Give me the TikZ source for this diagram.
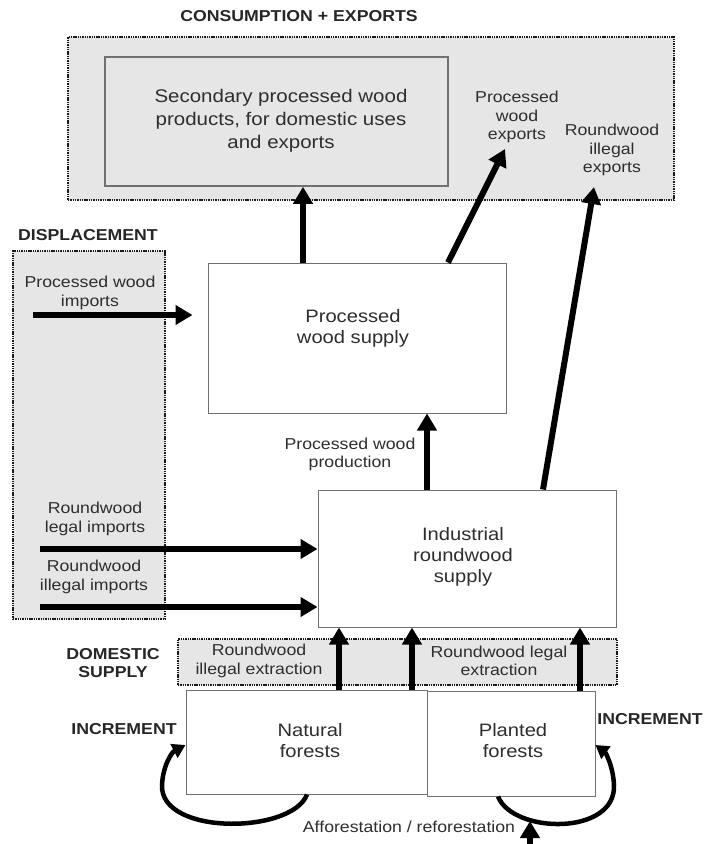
\documentclass[tikz,border=0pt]{standalone}
\usepackage{fontspec}
\setmainfont{Liberation Sans}[FakeStretch=1.12]
\usetikzlibrary{arrows.meta}
\definecolor{boxgray}{HTML}{E6E6E6}
\definecolor{edgegray}{HTML}{707070}
\definecolor{txt}{HTML}{2E2E2E}
\begin{document}
\begin{tikzpicture}[x=1pt,y=-1pt,
  dotbox/.style={draw=black!90, fill=boxgray, line width=2pt, dash pattern=on 1.4pt off 0.9pt},
  plainbox/.style={draw=edgegray, fill=white, line width=1pt},
  secbox/.style={draw=edgegray, fill=boxgray, line width=1.6pt},
  maintext/.style={text=txt, align=center, font=\fontsize{18}{21}\selectfont, inner sep=0pt},
  smalltext/.style={text=txt, align=center, font=\fontsize{15.8}{18.5}\selectfont, inner sep=0pt},
  boldlabel/.style={text=black!85, align=center, font=\bfseries\fontsize{15.8}{18}\selectfont, inner sep=0pt},
  bigarrow/.style={line width=6pt, -{Triangle[width=19pt,length=17pt]}},
  curvearrow/.style={line width=4.5pt, -{Triangle[width=15pt,length=13pt]}},
]
\useasboundingbox (0,0) rectangle (704,844);

% boxes
\node[dotbox, minimum width=606pt, minimum height=163pt] (cons) at (371,118.5) {};
\node[secbox, minimum width=343pt, minimum height=129pt] (sec) at (276.5,121.5) {};
\node[dotbox, minimum width=152pt, minimum height=368pt] (disp) at (89,435) {};
\node[plainbox, minimum width=298pt, minimum height=150pt] (pws) at (357,338) {};
\node[plainbox, minimum width=298pt, minimum height=137pt] (irs) at (467,558.5) {};
\node[dotbox, minimum width=439pt, minimum height=46pt] (dom) at (397.5,662) {};
\node[plainbox, minimum width=241pt, minimum height=104pt] (nat) at (306.5,742) {};
\node[plainbox, minimum width=168pt, minimum height=105pt] (plant) at (511,743.5) {};

% free ends
\coordinate (pwiS) at (33,315);
\coordinate (pweE) at (505,149);
\coordinate (rieE) at (594,187);
\coordinate (rliS) at (40,549);
\coordinate (riiS) at (40,607);
\coordinate (affS) at (530,846);
\coordinate (affE) at (530,821);

% connectors
\draw[bigarrow] (303,0 |- pws.north) -- (303,0 |- sec.south);
\draw[bigarrow] (448,0 |- pws.north) -- (pweE);
\draw[bigarrow] (543,0 |- irs.north) -- (rieE);
\draw[bigarrow, shorten >=15pt] (pwiS) -- (pwiS -| pws.west);
\draw[bigarrow] (427,0 |- irs.north) -- (427,0 |- pws.south);
\draw[bigarrow] (rliS) -- (rliS -| irs.west);
\draw[bigarrow] (riiS) -- (riiS -| irs.west);
\draw[bigarrow] (339,0 |- nat.north) -- (339,0 |- irs.south);
\draw[bigarrow] (412,0 |- nat.north) -- (412,0 |- irs.south);
\draw[bigarrow] (580,0 |- plant.north) -- (580,0 |- irs.south);
\draw[curvearrow] (307,0 |- nat.south) .. controls (292,834) and (160,836) .. (162,785) .. controls (163,765) and (172,752) .. (nat.west |- 0,745);
\draw[curvearrow] (498,0 |- plant.south) .. controls (513,834) and (616,836) .. (614,785) .. controls (613,765) and (605,752) .. (plant.east |- 0,745);
\draw[bigarrow] (affS) -- (affE);

% texts
\node[boldlabel] (tcons) at (299,16) {CONSUMPTION + EXPORTS};
\node[maintext, font=\fontsize{18.3}{23}\selectfont] (tsec) at (281,121) {Secondary processed wood\\products, for domestic uses\\and exports};
\node[smalltext] (tpwe) at (517,117) {Processed\\wood\\exports};
\node[smalltext] (trie) at (612,150) {Roundwood\\illegal\\exports};
\node[boldlabel] (tdisp) at (88,235) {DISPLACEMENT};
\node[smalltext] (tpwi) at (90,293) {Processed wood\\imports};
\node[maintext] (tpws) at (353,328) {Processed\\wood supply};
\node[smalltext] (tpwp) at (350,454.5) {Processed wood\\production};
\node[maintext] (tirs) at (463,557) {Industrial\\roundwood\\supply};
\node[smalltext] (trli) at (95,519) {Roundwood\\legal imports};
\node[smalltext] (trii) at (94,577) {Roundwood\\illegal imports};
\node[boldlabel] (tdom) at (113,663.5) {DOMESTIC\\SUPPLY};
\node[smalltext] (tile) at (259,661) {Roundwood\\illegal extraction};
\node[smalltext] (tle) at (499,661) {Roundwood legal\\extraction};
\node[maintext] (tnat) at (310,741) {Natural\\forests};
\node[maintext] (tpl) at (513,741) {Planted\\forests};
\node[boldlabel] (tincl) at (124,729) {INCREMENT};
\node[boldlabel] (tincr) at (650,719) {INCREMENT};
\node[smalltext] (taff) at (409,827) {Afforestation / reforestation};
\end{tikzpicture}
\end{document}
